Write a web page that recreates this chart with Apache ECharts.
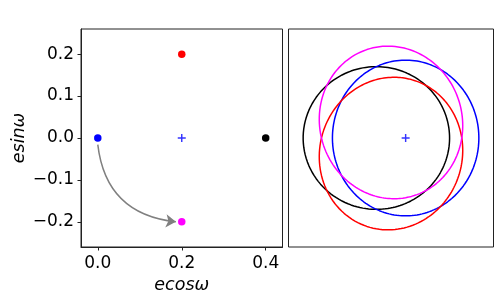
<!DOCTYPE html>
<html><head><meta charset="utf-8">
<script src="https://cdn.jsdelivr.net/npm/echarts@6/dist/echarts.min.js"></script>
<style>html,body{margin:0;padding:0;background:#fff}#c{width:498px;height:291px}</style>
</head><body><div id="c"></div>
<script>
// Left panel: e cos(omega), e sin(omega) of four orbits
const ecosw = [0.0, 0.2, 0.4, 0.2];
const esinw = [0.0, 0.2, 0.0, -0.2];
const colors = ['#0000ff', '#ff0000', '#000000', '#ff00ff'];
const centerPoint = [0.2, 0.0];       // blue plus in left panel
const focusPoint = [0.0, 0.0];        // blue plus in right panel
const arrowStart = [0.0, -0.016];
const arrowEnd = [0.186, -0.2];
const xTicks = [0.0, 0.2, 0.4];
const yTicks = [-0.2, -0.1, 0.0, 0.1, 0.2];
const semiMajor = 1.0;

function fmt(v){ let s = Math.abs(v) < 1e-9 ? '0.0' : v.toFixed(1); return s.replace('-', '\u2212'); }

function orbit(ec, es){
  const e = Math.sqrt(ec*ec + es*es), w = Math.atan2(es, ec);
  const pts = [];
  const N = 360;
  for (let i = 0; i <= N; i++){
    const nu = 2*Math.PI*i/N;
    const r = semiMajor*(1 - e*e)/(1 + e*Math.cos(nu));
    pts.push([r*Math.cos(nu + w), r*Math.sin(nu + w)]);
  }
  return pts;
}

const plusSym = 'path://M4.1,0H5.9V4.1H10V5.9H5.9V10H4.1V5.9H0V4.1H4.1Z';
const font = '"DejaVu Sans", sans-serif';
const fs = 17;
const nfs = 17.5;

const series = [];
series.push({
  type: 'lines', coordinateSystem: 'cartesian2d', xAxisIndex: 0, yAxisIndex: 0,
  polyline: false, z: 1,
  symbol: ['none', 'arrow'], symbolSize: [8, 10],
  lineStyle: {color: '#808080', width: 1.5, curveness: -0.4, opacity: 1},
  data: [{coords: [arrowStart, arrowEnd]}]
});
for (let i = 0; i < ecosw.length; i++){
  series.push({type: 'scatter', xAxisIndex: 0, yAxisIndex: 0, z: 3,
    symbol: 'circle', symbolSize: 7.5, itemStyle: {color: colors[i], opacity: 1},
    data: [[ecosw[i], esinw[i]]]});
}
series.push({type: 'scatter', xAxisIndex: 0, yAxisIndex: 0, z: 3,
  symbol: plusSym, symbolSize: 8, itemStyle: {color: '#0000ff'}, data: [centerPoint]});

const order = [2, 0, 1, 3];
order.forEach(i => {
  series.push({type: 'line', xAxisIndex: 1, yAxisIndex: 1, showSymbol: false, symbol: 'none',
    smooth: false, lineStyle: {color: colors[i], width: 1.5}, data: orbit(ecosw[i], esinw[i]), z: 2});
});
series.push({type: 'scatter', xAxisIndex: 1, yAxisIndex: 1, z: 3,
  symbol: plusSym, symbolSize: 8, itemStyle: {color: '#0000ff'}, data: [focusPoint]});

const chart = echarts.init(document.getElementById('c'), null, {renderer: 'canvas'});
chart.setOption({
  animation: false,
  backgroundColor: '#fff',
  textStyle: {fontFamily: font},
  grid: [
    {left: 81, top: 29, width: 201.5, height: 218, show: true, borderColor: '#222', borderWidth: 1, backgroundColor: 'transparent', containLabel: false, outerBoundsMode: 'none'},
    {left: 288.5, top: 29, width: 205, height: 218, show: true, borderColor: '#222', borderWidth: 1, backgroundColor: 'transparent', containLabel: false, outerBoundsMode: 'none'}
  ],
  xAxis: [
    {type: 'value', gridIndex: 0, min: -0.04, max: 0.44,
      name: 'ecos\u03c9', nameLocation: 'middle', nameGap: 27,
      nameTextStyle: {fontFamily: font, fontStyle: 'italic', fontSize: nfs, color: '#000'},
      axisLine: {show: true, onZero: false, lineStyle: {color: '#222', width: 1}},
      axisTick: {show: true, inside: false, length: 3.5, lineStyle: {color: '#222'}, customValues: xTicks},
      axisLabel: {show: true, margin: 8, fontSize: fs, color: '#000', fontFamily: font, customValues: xTicks, formatter: fmt},
      splitLine: {show: false}},
    {type: 'value', gridIndex: 1, min: -1.6, max: 1.2,
      axisLine: {show: false}, axisTick: {show: false}, axisLabel: {show: false}, splitLine: {show: false}}
  ],
  yAxis: [
    {type: 'value', gridIndex: 0, min: -0.26, max: 0.26,
      name: 'esin\u03c9', nameLocation: 'middle', nameGap: 50, nameRotate: 90,
      nameTextStyle: {fontFamily: font, fontStyle: 'italic', fontSize: nfs, color: '#000'},
      axisLine: {show: true, onZero: false, lineStyle: {color: '#222', width: 1}},
      axisTick: {show: true, inside: false, length: 3.5, lineStyle: {color: '#222'}, customValues: yTicks},
      axisLabel: {show: true, margin: 7, fontSize: fs, color: '#000', fontFamily: font, customValues: yTicks, formatter: fmt},
      splitLine: {show: false}},
    {type: 'value', gridIndex: 1, min: -1.4, max: 1.4,
      axisLine: {show: false}, axisTick: {show: false}, axisLabel: {show: false}, splitLine: {show: false}}
  ],
  series: series
});
</script></body></html>
